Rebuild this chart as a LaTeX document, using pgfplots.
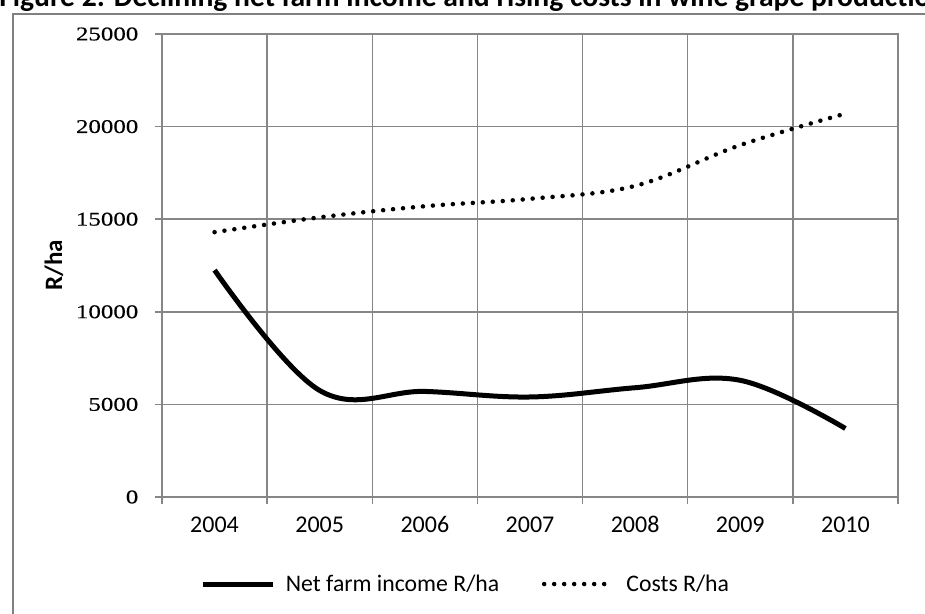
\documentclass[border=0pt]{standalone}
\usepackage{pgfplots}
\pgfplotsset{compat=1.18}
\usepackage{fontspec}
\setmainfont{Carlito}
\newfontfamily\yfont[FakeStretch=1.28,FakeBold=0.3]{Liberation Serif}
\definecolor{gridgray}{HTML}{868686}
\definecolor{framegray}{HTML}{808080}
\begin{document}
\begin{tikzpicture}[x=0.75pt,y=0.75pt]
\useasboundingbox (0,0) rectangle (925,614);
\draw[framegray, line width=1.9pt] (13,-20) -- (13,600) -- (960,600);
\node[anchor=base west, inner sep=0pt, font=\bfseries\fontsize{22.2pt}{26pt}\selectfont] at (-1,607) {Figure 2: Declining net farm income and rising costs in wine grape production};
\begin{axis}[
  at={(121.5pt,87.75pt)}, anchor=south west,
  scale only axis, width=552pt, height=347.25pt,
  xmin=-0.5, xmax=6.5, ymin=0, ymax=25000,
  ytick={0,5000,10000,15000,20000,25000},
  scaled y ticks=false,
  xtick={0,1,2,3,4,5,6},
  xticklabels={2004,2005,2006,2007,2008,2009,2010},
  minor xtick={-0.5,0.5,1.5,2.5,3.5,4.5,5.5,6.5},
  ymajorgrids, xminorgrids,
  grid style={gridgray, line width=1.1pt},
  axis line style={gridgray, line width=1.1pt},
  tick style={gridgray, line width=1.1pt},
  major x tick style={draw=none},
  major tick length=5.25pt, minor tick length=5.25pt,
  tick align=outside,
  xtick pos=bottom, ytick pos=left,
  /pgf/number format/assume math mode=true,
  /pgf/number format/1000 sep={},
  yticklabel style={font=\yfont\fontsize{14.6pt}{16pt}\selectfont, xshift=-9pt},
  xticklabel style={font=\fontsize{18pt}{21pt}\selectfont, text height=13pt, text depth=0pt, yshift=-4.5pt},
  ylabel={R/ha},
  ylabel style={font=\bfseries\fontsize{18.75pt}{22pt}\selectfont, at={(axis description cs:-0.1467,0.5)}, anchor=center},
  legend columns=2,
  legend style={at={(axis description cs:0.4117,-0.188)}, anchor=center, draw=none, fill=none,
    font=\fontsize{17.8pt}{21pt}\selectfont,
    nodes={inner sep=0pt},
    /tikz/every odd column/.append style={column sep=7.5pt},
    /tikz/every even column/.append style={column sep=32pt}},
  legend image code/.code={\draw[#1] (0pt,0pt) -- (52.5pt,0pt);},
]
\addplot[black, line width=3.75pt, smooth, tension=0.62] coordinates {
  (0,12250) (1,5750) (2,5700) (3,5400) (4,5900) (5,6300) (6,3700)};
\addlegendentry{Net farm income R/ha}
\addplot[black, line width=3.4pt, line cap=round, dash pattern=on 0pt off 7.5pt, smooth, tension=0.6] coordinates {
  (0,14300) (1,15100) (2,15700) (3,16100) (4,16800) (5,19000) (6,20700)};
\addlegendentry{Costs R/ha}
\end{axis}
\end{tikzpicture}
\end{document}
